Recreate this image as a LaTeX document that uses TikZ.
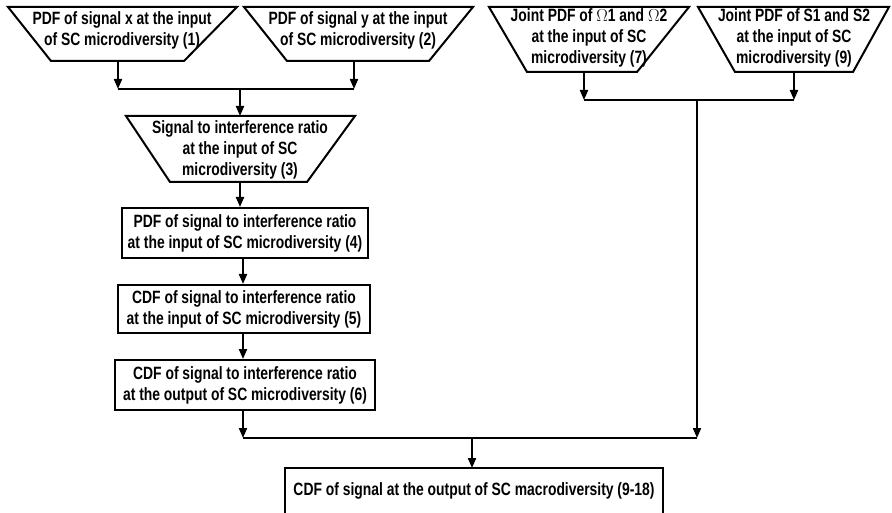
\documentclass[tikz,border=0pt]{standalone}
\usepackage{fontspec}
\setmainfont{Liberation Sans}[FakeStretch=0.78]
\usetikzlibrary{arrows.meta}
\begin{document}
\begin{tikzpicture}[x=1pt,y=-1pt,
  shp/.style={draw=black,line width=2pt,line join=miter},
  txt/.style={align=center,inner sep=0pt,font=\bfseries\fontsize{17.8}{21}\selectfont},
  arr/.style={line width=2pt,-{Triangle[length=10pt,width=8pt]}},
  ln/.style={line width=2pt}]
\useasboundingbox (0,0) rectangle (892,513);
% top-left trapezoids
\draw[shp] (8,7) -- (237,7) -- (184,61) -- (51,61) -- cycle;
\node[txt] (t1) at (122,30) {PDF of signal x at the input\\of SC microdiversity (1)};
\draw[shp] (244,7) -- (473,7) -- (429,61) -- (287,61) -- cycle;
\node[txt] (t2) at (358,30) {PDF of signal y at the input\\of SC microdiversity (2)};
\coordinate (b1) at (118,61);
\coordinate (b2) at (354,61);
\coordinate (j1) at (118,89);
\coordinate (j2) at (354,89);
\coordinate (j3) at (240,89);
\draw[arr] (b1) -- (j1);
\draw[arr] (b2) -- (j2);
\draw[ln] (j1) -- (j2);
% trapezoid 3
\draw[shp] (126,116) -- (355,116) -- (307,182) -- (170,182) -- cycle;
\node[txt] (t3) at (240,150) {Signal to interference ratio\\at the input of SC\\microdiversity (3)};
\coordinate (t3top) at (240,116);
\coordinate (t3bot) at (240,182);
\draw[arr] (j3) -- (t3top);
% boxes
\node[shp,txt,minimum width=246pt,minimum height=50pt] (b4) at (245,233) {PDF of signal to interference ratio\\at the input of SC microdiversity (4)};
\node[shp,txt,minimum width=252pt,minimum height=48pt] (b5) at (244,309) {CDF of signal to interference ratio\\at the input of SC microdiversity (5)};
\node[shp,txt,minimum width=260pt,minimum height=50pt] (b6) at (245,385) {CDF of signal to interference ratio\\at the output of SC microdiversity (6)};
\draw[arr] (t3bot) -- (t3bot |- b4.north);
\draw[arr] (b4.south -| 243,0) -- (b5.north -| 243,0);
\draw[arr] (b5.south -| 243,0) -- (b6.north -| 243,0);
% right trapezoids
\draw[shp] (489,7) -- (689,7) -- (637,72) -- (527,72) -- cycle;
\node[txt] (t4) at (589,38) {Joint PDF of $\Omega$1 and $\Omega$2\\at the input of SC\\microdiversity (7)};
\draw[shp] (698,7) -- (889,7) -- (853,72) -- (735,72) -- cycle;
\node[txt] (t5) at (794,38) {Joint PDF of S1 and S2\\at the input of SC\\microdiversity (9)};
\coordinate (b4r) at (584,72);
\coordinate (b5r) at (794,72);
\coordinate (k1) at (584,100);
\coordinate (k2) at (794,100);
\coordinate (k3) at (697,100);
\draw[arr] (b4r) -- (k1);
\draw[arr] (b5r) -- (k2);
\draw[ln] (k1) -- (k2);
% merge
\coordinate (m1) at (243,438);
\coordinate (m2) at (697,438);
\coordinate (m3) at (472,438);
\draw[arr] (b6.south -| m1) -- (m1);
\draw[arr] (k3) -- (m2);
\draw[ln] (m1) -- (m2);
\draw[shp] (285,468) rectangle (663,530);
\node[txt] (fin) at (474,491) {CDF of signal at the output of SC macrodiversity (9-18)};
\coordinate (fintop) at (472,468);
\draw[arr] (m3) -- (fintop);
\end{tikzpicture}
\end{document}
